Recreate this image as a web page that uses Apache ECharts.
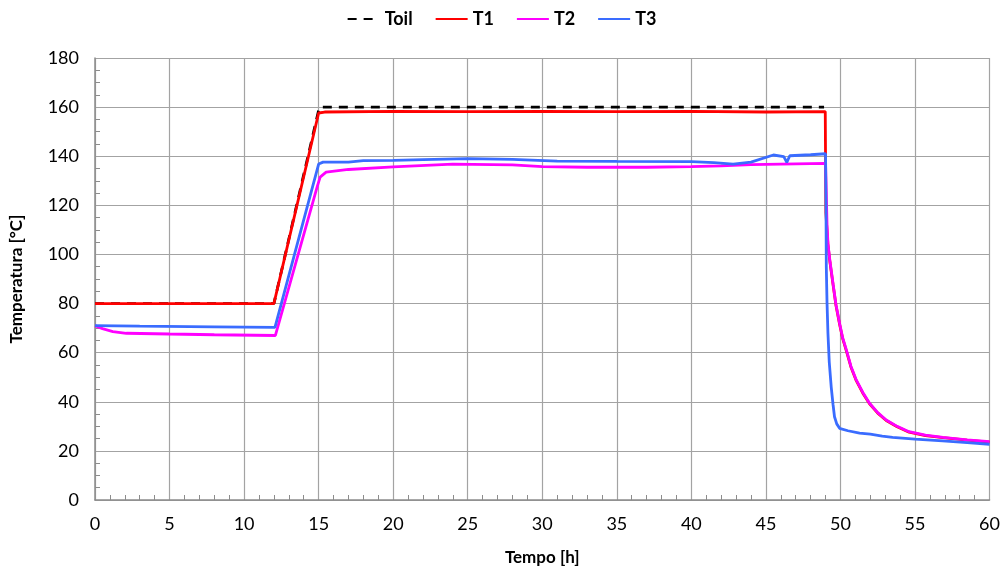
<!DOCTYPE html>
<html>
<head>
<meta charset="utf-8">
<script src="https://cdn.jsdelivr.net/npm/echarts@6/dist/echarts.min.js"></script>
<style>html,body{margin:0;padding:0;background:#fff}#c{width:1003px;height:572px}</style>
</head>
<body>
<div id="c"></div>
<script>
const seriesNames = ['Toil', 'T1', 'T2', 'T3'];

const toilTime = [0, 12, 15.05, 48.9];
const toilVal  = [80, 80, 160, 160];

const t1Time = [0, 5, 12.0, 15.0, 15.4, 20, 25, 30, 35, 40, 45, 48.98, 49.02, 49.16, 49.3, 49.5, 49.7, 49.94, 50.15, 50.4, 50.7, 51.06, 51.5, 51.95, 52.5, 53.07, 53.8, 54.6, 55.7, 56.87, 58.5, 60];
const t1Val  = [80, 80, 80, 157.6, 158.0, 158.3, 158.2, 158.3, 158.2, 158.3, 158.0, 158.2, 117, 104, 96.6, 87.8, 79.2, 71.6, 65.7, 60.6, 54.2, 48.6, 43.5, 39.2, 35.4, 32.4, 29.8, 27.6, 26.2, 25.4, 24.4, 23.6];

const t2Time = [0, 0.5, 1.2, 2.1, 5, 8, 12.1, 14.9, 15.1, 15.5, 17, 20, 24, 28, 30, 33, 37, 40, 42, 44, 46, 49.0, 49.1, 49.16, 49.3, 49.5, 49.7, 49.94, 50.15, 50.4, 50.7, 51.06, 51.5, 51.95, 52.5, 53.07, 53.8, 54.6, 55.7, 56.87, 58.5, 60];
const t2Val  = [71, 69.8, 68.6, 67.9, 67.6, 67.3, 67.0, 127.5, 131.5, 133.5, 134.6, 135.7, 136.8, 136.5, 135.8, 135.5, 135.5, 135.8, 136.1, 136.6, 136.8, 137.1, 112, 104.5, 97, 88.2, 79.5, 72, 66, 61, 54.5, 48.9, 43.8, 39.4, 35.6, 32.6, 30, 27.8, 26.4, 25.5, 24.5, 23.8];

const t3Time = [0, 3, 8, 12.07, 15.0, 15.3, 17, 18, 20, 22, 25, 28, 31, 35, 40, 41.5, 42.8, 44, 45.5, 46.2, 46.4, 46.6, 48, 49.0, 49.03, 49.05, 49.1, 49.16, 49.25, 49.38, 49.5, 49.6, 49.75, 49.94, 50.5, 51.28, 52, 52.8, 53.5, 55, 56.85, 58.5, 60];
const t3Val  = [71, 70.8, 70.5, 70.3, 136.8, 137.6, 137.6, 138.2, 138.3, 138.6, 139, 138.7, 138.0, 137.9, 137.8, 137.4, 136.8, 137.6, 140.5, 139.8, 137.5, 140.2, 140.6, 141, 120, 95, 80, 67.9, 56, 46, 39, 33.9, 31, 29.2, 28.2, 27.2, 26.8, 26, 25.5, 24.8, 24.1, 23.4, 22.7];

const xTicks = {min: 0, max: 60, interval: 5};
const yTicks = {min: 0, max: 180, interval: 20};

function pairs(t, v) { return t.map((x, i) => [x, v[i]]); }

const font = 'Lato, "Open Sans", sans-serif';
const chart = echarts.init(document.getElementById('c'), null, {renderer: 'canvas'});

function lineSeries(name, t, v, color, dashed, z) {
  return {
    name: name, type: 'line', data: pairs(t, v), symbol: 'none', smooth: false,
    animation: false, z: z,
    lineStyle: {color: color, width: 2.8, type: dashed ? [9, 7] : 'solid'},
    itemStyle: {color: color}
  };
}

chart.setOption({
  animation: false,
  legend: {
    top: 5, left: 'center', itemWidth: 32, itemHeight: 10, itemGap: 22,
    data: seriesNames,
    itemStyle: {opacity: 0},
    textStyle: {fontFamily: font, fontWeight: 'bold', fontSize: 18, color: '#000'}
  },
  grid: {left: 95, right: 13, top: 58, bottom: 72, containLabel: false},
  xAxis: {
    type: 'value', min: xTicks.min, max: xTicks.max, interval: xTicks.interval,
    name: 'Tempo [h]', nameLocation: 'middle', nameGap: 49,
    nameTextStyle: {fontFamily: font, fontWeight: 'bold', fontSize: 17, color: '#000'},
    axisLine: {show: true, lineStyle: {color: '#8c8c8c', width: 1.5}},
    axisTick: {show: false, inside: true},
    minorTick: {show: true, splitNumber: 5, length: 5, lineStyle: {color: '#8c8c8c', width: 1}},
    axisLabel: {fontFamily: font, fontSize: 18, color: '#000', margin: 15},
    splitLine: {show: true, lineStyle: {color: '#a3a3a3', width: 1.2}}
  },
  yAxis: {
    type: 'value', min: yTicks.min, max: yTicks.max, interval: yTicks.interval,
    name: 'Temperatura [°C]', nameLocation: 'middle', nameGap: 70, nameRotate: 90,
    nameTextStyle: {fontFamily: font, fontWeight: 'bold', fontSize: 17, color: '#000'},
    axisLine: {show: true, lineStyle: {color: '#8c8c8c', width: 1.5}},
    axisTick: {show: false, inside: true},
    minorTick: {show: true, splitNumber: 4, length: 5, lineStyle: {color: '#8c8c8c', width: 1}},
    axisLabel: {fontFamily: font, fontSize: 18, color: '#000', margin: 16},
    splitLine: {show: true, lineStyle: {color: '#a3a3a3', width: 1.2}}
  },
  series: [
    lineSeries('Toil', toilTime, toilVal, '#000000', true, 2),
    lineSeries('T1', t1Time, t1Val, '#ff0000', false, 3),
    lineSeries('T2', t2Time, t2Val, '#ff00ff', false, 4),
    lineSeries('T3', t3Time, t3Val, '#3a6cff', false, 5)
  ]
});
</script>
</body>
</html>
